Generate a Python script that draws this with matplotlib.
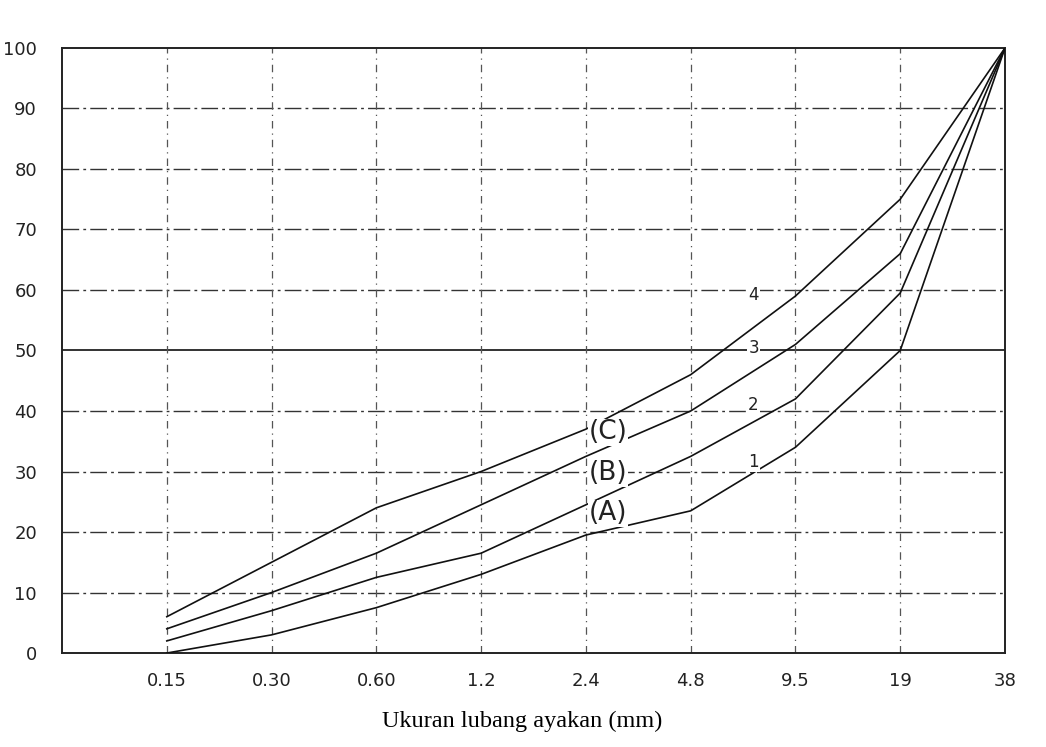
import numpy as np
import matplotlib
matplotlib.use("Agg")
import matplotlib.pyplot as plt

# sieve sizes (mm), plotted at equal spacing
sizes = ["0.15", "0.30", "0.60", "1.2", "2.4", "4.8", "9.5", "19", "38"]

# percent passing
curve1 = [0, 3, 7.5, 13, 19.5, 23.5, 34, 50, 100]
curve2 = [2, 7, 12.5, 16.5, 24.5, 32.5, 42, 59.5, 100]
curve3 = [4, 10, 16.5, 24.5, 32.5, 40, 51, 66, 100]
curve4 = [6, 15, 24, 30, 37, 46, 59, 75, 100]

yticks = list(range(0, 101, 10))

fig = plt.figure(figsize=(10.46, 7.47), dpi=100)
ax = fig.add_axes([0.0593, 0.1258, 0.9015, 0.81])

xs = np.arange(1, len(sizes) + 1)

# grid: dash-dot rows, dashed columns, the 50 row solid
for y in yticks[1:-1]:
    if y == 50:
        ax.axhline(y, color="#222222", lw=1.3, zorder=1)
    else:
        ax.axhline(y, color="#333333", lw=1.0, ls=(0, (12, 3, 2, 3)), zorder=1)
for x in xs[:-1]:
    ax.axvline(x, color="#555555", lw=0.9, ls=(0, (6, 4, 1, 4)), zorder=1)

for c in [curve1, curve2, curve3, curve4]:
    ax.plot(xs, c, color="#111111", lw=1.2, zorder=3)

# curve labels
lab_kw = dict(ha="center", va="center", fontsize=19, color="#222222", zorder=4,
              bbox=dict(boxstyle="square,pad=0.02", fc="white", ec="none"))
ax.text(5.21, 36.5, "(C)", **lab_kw)
ax.text(5.21, 29.7, "(B)", **lab_kw)
ax.text(5.21, 23.1, "(A)", **lab_kw)
num_kw = dict(ha="center", va="center", fontsize=12, color="#222222", zorder=4,
              bbox=dict(boxstyle="square,pad=0.05", fc="white", ec="none"))
ax.text(6.6, 59.2, "4", **num_kw)
ax.text(6.6, 50.4, "3", **num_kw)
ax.text(6.6, 41.0, "2", **num_kw)
ax.text(6.6, 31.6, "1", **num_kw)

ax.set_xlim(0, len(sizes))
ax.set_ylim(0, 100)
ax.set_xticks(xs)
ax.set_xticklabels(sizes)
ax.set_yticks(yticks)
ax.set_yticklabels([str(v) for v in yticks])
ax.tick_params(length=0, labelsize=13, colors="#222222")
ax.tick_params(axis="x", pad=14)
ax.tick_params(axis="y", pad=18)
for s in ax.spines.values():
    s.set_color("#222222")
    s.set_linewidth(1.4)

ax.set_xlabel("Ukuran lubang ayakan (mm)", family="Liberation Serif",
              fontsize=17.5)
ax.xaxis.set_label_coords(0.488, -0.095)

fig.savefig("out.png", dpi=100)
